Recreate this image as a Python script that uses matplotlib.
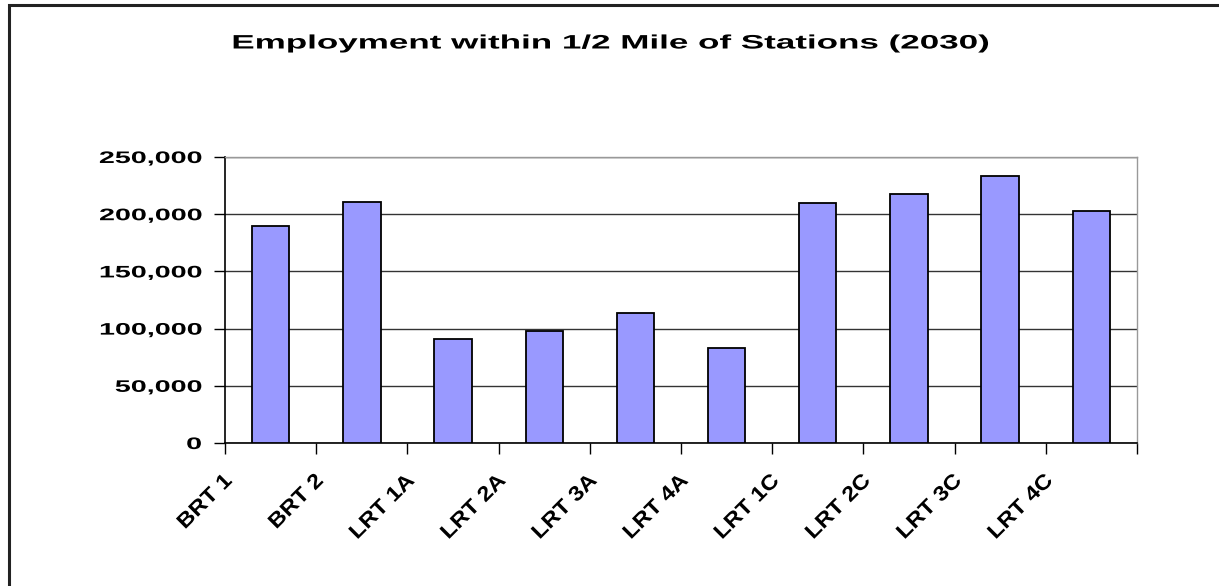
import numpy as np
import matplotlib.pyplot as plt
from matplotlib.patches import Rectangle
from matplotlib.patheffects import AbstractPathEffect
from matplotlib.transforms import Affine2D

plt.rcParams['font.family'] = ['Liberation Sans', 'DejaVu Sans']

alternatives = ['BRT 1', 'BRT 2', 'LRT 1A', 'LRT 2A', 'LRT 3A',
                'LRT 4A', 'LRT 1C', 'LRT 2C', 'LRT 3C', 'LRT 4C']
employment = [189800, 210500, 91300, 97700, 113300,
              83300, 210200, 217300, 233800, 202900]


class Widen(AbstractPathEffect):
    """Draw glyphs stretched along the baseline (anchor: 0 left, .5 centre, 1 right)."""

    def __init__(self, sx, anchor=0.5, offset=(0, 0)):
        super().__init__(offset)
        self.sx = sx
        self.anchor = anchor

    def draw_path(self, renderer, gc, tpath, affine, rgbFace=None):
        ext = tpath.get_extents()
        cx = ext.x0 + self.anchor * ext.width
        widen = Affine2D().translate(-cx, 0).scale(self.sx, 1).translate(cx, 0)
        renderer.draw_path(gc, tpath, widen + affine + self._offset_transform(renderer),
                           rgbFace)


fig = plt.figure(figsize=(12.19, 5.86), dpi=100)
ax = fig.add_axes([0.1846, 0.2440, 0.7481, 0.4881])

# outer chart frame
fig.patches.append(Rectangle((9 / 1219, -0.1), 1.2, 1 - 5 / 586 + 0.1,
                             transform=fig.transFigure, fill=False,
                             edgecolor='#222222', linewidth=2.2))

x = np.arange(len(alternatives)) + 0.5
ax.bar(x, employment, width=0.41, color='#9999ff', edgecolor='black',
       linewidth=1.3, zorder=3)

ax.set_xlim(0, len(alternatives))
ax.set_ylim(0, 250000)
ax.set_yticks(np.arange(0, 250001, 50000))
ylabels = ax.set_yticklabels([f'{v:,}' for v in range(0, 250001, 50000)],
                             fontsize=12, fontweight='bold')
for lbl in ylabels:
    lbl.set_path_effects([Widen(1.72, 1.0)])

ax.set_xticks(np.arange(len(alternatives) + 1))
xlabels = ax.set_xticklabels(alternatives + [''], rotation=45, ha='right',
                             rotation_mode='anchor', fontsize=15,
                             fontweight='bold')
for lbl in xlabels:
    lbl.set_va('center')
    lbl.set_path_effects([Widen(1.13, 1.0, offset=(3, -4))])

ax.tick_params(axis='both', direction='out', length=8, width=1, color='black')
ax.tick_params(axis='x', pad=13)
ax.tick_params(axis='y', pad=9)

ax.grid(axis='y', color='#333333', linewidth=1, zorder=0)
ax.set_axisbelow(True)
for side in ['top', 'right']:
    ax.spines[side].set_color('#999999')
    ax.spines[side].set_linewidth(1)
for side in ['left', 'bottom']:
    ax.spines[side].set_color('black')
    ax.spines[side].set_linewidth(1.2)

title = fig.text(611 / 1219, 1 - 44 / 586,
                 'Employment within 1/2 Mile of Stations (2030)',
                 ha='center', va='center', fontsize=14, fontweight='bold')
title.set_path_effects([Widen(1.8, 0.5)])

fig.savefig('out.png', dpi=100)
